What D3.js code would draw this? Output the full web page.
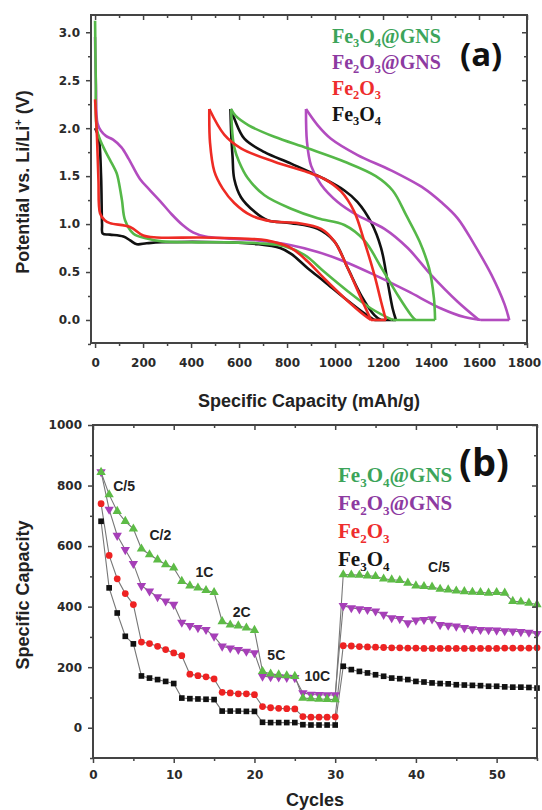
<!DOCTYPE html>
<html>
<head>
<meta charset="utf-8">
<script src="https://cdn.jsdelivr.net/npm/d3@7"></script>
<style>
  body { margin: 0; background: #fff; }
  svg { display: block; font-family: "Liberation Sans", Arial, sans-serif; }
</style>
</head>
<body>
<svg id="chart" width="542" height="810"></svg>
<script>
// ---------- panel (a): voltage profiles, points are [capacity mAh/g, potential V]
// charge curves start at the end of the flat 0 V step and climb back to the 2.2 V turn
var fe3o4Discharge1 = [[0,2.0],[15,1.9],[25,1.5],[29,1.0],[32,0.9],[62,0.89],[118,0.87],[146,0.83],[174,0.79],[215,0.80],[278,0.81],[539,0.81],[678,0.79],[771,0.75],[817,0.69],[886,0.54],[956,0.40],[1039,0.23],[1122,0.07],[1164,0]];
var fe3o4Charge = [[1254,0],[1240,0.12],[1219,0.40],[1192,0.75],[1150,1.02],[1094,1.23],[1039,1.35],[956,1.47],[817,1.63],[706,1.75],[622,1.89],[580,2.10],[564,2.2]];
var fe3o4Discharge2 = [[564,2.2],[568,1.9],[573,1.70],[580,1.47],[608,1.28],[664,1.13],[719,1.04],[817,1.01],[928,0.95],[997,0.82],[1053,0.54],[1108,0.26],[1164,0.05],[1190,0]];

var fe2o3Discharge1 = [[0,2.3],[8,1.9],[14,1.46],[21,1.11],[40,1.04],[62,1.01],[146,0.97],[201,0.88],[257,0.86],[437,0.86],[610,0.85],[715,0.83],[817,0.75],[886,0.61],[956,0.43],[1039,0.23],[1122,0.05],[1150,0]];
var fe2o3Charge = [[1212,0],[1192,0.19],[1164,0.47],[1122,0.82],[1080,1.13],[1025,1.34],[956,1.47],[886,1.54],[747,1.65],[608,1.79],[539,1.93],[476,2.2]];
var fe2o3Discharge2 = [[476,2.2],[479,1.85],[497,1.55],[532,1.37],[580,1.22],[650,1.09],[733,1.03],[845,1.01],[942,0.95],[997,0.82],[1053,0.54],[1108,0.23],[1150,0]];

var gnsFe3o4Discharge1 = [[0,3.12],[3,2.5],[8,1.98],[35,1.80],[62,1.67],[90,1.53],[98,1.45],[112,1.25],[125,1.04],[160,0.90],[216,0.85],[278,0.82],[400,0.81],[539,0.81],[678,0.80],[789,0.77],[872,0.68],[956,0.50],[1053,0.30],[1150,0.12],[1240,0]];
var gnsFe3o4Charge = [[1417,0],[1412,0.23],[1392,0.54],[1352,0.82],[1297,1.09],[1240,1.35],[1170,1.50],[1040,1.65],[886,1.79],[747,1.91],[640,2.03],[585,2.13],[567,2.2]];
var gnsFe3o4Discharge2 = [[567,2.2],[572,1.95],[580,1.80],[600,1.65],[636,1.48],[706,1.30],[817,1.16],[928,1.06],[1039,0.99],[1122,0.83],[1192,0.55],[1261,0.26],[1317,0.05],[1335,0]];

var gnsFe2o3Discharge1 = [[0,2.95],[4,2.4],[10,2.05],[25,1.97],[45,1.92],[75,1.88],[110,1.80],[140,1.68],[187,1.47],[230,1.35],[271,1.24],[320,1.10],[365,0.99],[410,0.91],[460,0.87],[550,0.85],[678,0.83],[817,0.78],[928,0.71],[1039,0.61],[1164,0.47],[1303,0.30],[1442,0.12],[1539,0.03],[1608,0]];
var gnsFe2o3Charge = [[1726,0],[1707,0.16],[1652,0.47],[1582,0.78],[1511,1.06],[1442,1.23],[1372,1.37],[1233,1.56],[1094,1.72],[983,1.89],[928,2.03],[879,2.2]];
var gnsFe2o3Discharge2 = [[879,2.2],[883,1.86],[900,1.61],[942,1.41],[1011,1.23],[1094,1.09],[1206,0.95],[1303,0.75],[1400,0.47],[1511,0.19],[1600,0]];

// ---------- panel (b): rate capability
var cycles = [1,2,3,4,5,6,7,8,9,10,11,12,13,14,15,16,17,18,19,20,21,22,23,24,25,26,27,28,29,30,31,32,33,34,35,36,37,38,39,40,41,42,43,44,45,46,47,48,49,50,51,52,53,54,55];
var gnsFe3o4Cap = [844,770,715,682,657, 591,572,555,539,528, 484,469,462,454,447, 351,340,337,330,322, 186,178,175,172,170, 98,96,95,94,93,
  506,505,504,502,500,492,489,487,478,469,467,465,458,456,452,450,448,447,445,447,445,418,416,412,407];
var gnsFe2o3Cap = [845,721,635,588,542, 469,451,432,418,407, 348,337,330,324,302, 269,263,258,252,247, 170,168,167,166,165, 115,110,109,108,108,
  403,396,392,390,385,374,363,360,346,355,357,359,340,338,335,330,326,324,323,322,320,319,317,315,311];
var fe2o3Cap = [740,569,492,443,407, 283,278,269,258,247,238, 177,172,168,161, 117,115,112,112,109, 70,66,64,63,62, 37,35,35,35,36,
  271,270,268,267,266,265,264,264,263,263,262,262,262,262,262,262,262,262,262,262,263,263,263,263,264];
var fe3o4Cap = [682,462,379,302,277, 171,164,159,153,146, 98,96,95,94,93, 55,55,55,54,54, 18,17,17,17,17, 10,9,9,9,9,
  203,192,186,181,175,170,164,162,159,153,151,148,146,145,142,141,140,139,137,137,135,134,134,133,131];

var legendLabels = ["Fe3O4@GNS", "Fe2O3@GNS", "Fe2O3", "Fe3O4"];
var rateLabels = ["C/5", "C/2", "1C", "2C", "5C", "10C", "C/5"];
var rateLabelCycle = [2.5, 7, 12.7, 17.3, 21.6, 26.2, 41.5];
var rateLabelCap = [783, 620, 498, 367, 225, 155, 513];

var capTicks = [0,200,400,600,800,1000,1200,1400,1600,1800];
var capMinor = [100,300,500,700,900,1100,1300,1500,1700];
var voltTicks = [0,0.5,1.0,1.5,2.0,2.5,3.0];
var voltMinor = [-0.25,0.25,0.75,1.25,1.75,2.25,2.75];
var cycleTicks = [0,10,20,30,40,50];
var cycleMinor = [5,15,25,35,45,55];
var capBTicks = [0,200,400,600,800,1000];
var capBMinor = [-100,100,300,500,700,900];

var lineColors = ["#55b848", "#b24cbf", "#ee2b24", "#111111"];
var textColors = ["#3ca45a", "#8d3aa1", "#ee2d2d", "#151515"];

var svg = d3.select("#chart");

// writes a chemical formula, digits as subscripts
function formula(sel, label, size) {
  var parts = label.match(/[0-9]+|[^0-9]+/g);
  var down = false;
  parts.forEach(function (p) {
    var t = sel.append("tspan").text(p);
    if (/^[0-9]+$/.test(p)) {
      t.attr("font-size", size * 0.62).attr("dy", size * 0.22);
      down = true;
    } else if (down) {
      t.attr("dy", -size * 0.22);
      down = false;
    }
  });
}

function axes(x, y, xMajor, xMinor, yMajor, yMinor, xFmt, yFmt, xPad, yPad) {
  var xr = x.range(), yr = y.range();
  var g = svg.append("g");
  g.append("g").attr("transform", "translate(0," + yr[0] + ")")
    .call(d3.axisBottom(x).tickValues(xMinor).tickSize(3).tickFormat(""));
  g.append("g").attr("class", "xlab").attr("transform", "translate(0," + yr[0] + ")")
    .call(d3.axisBottom(x).tickValues(xMajor).tickSize(5).tickPadding(xPad).tickFormat(xFmt));
  g.append("g").attr("transform", "translate(0," + yr[1] + ")")
    .call(d3.axisTop(x).tickValues(xMinor).tickSize(-3).tickFormat(""));
  g.append("g").attr("transform", "translate(0," + yr[1] + ")")
    .call(d3.axisTop(x).tickValues(xMajor).tickSize(-5).tickFormat(""));
  g.append("g").attr("transform", "translate(" + xr[0] + ",0)")
    .call(d3.axisLeft(y).tickValues(yMinor).tickSize(3).tickFormat(""));
  g.append("g").attr("transform", "translate(" + xr[0] + ",0)")
    .call(d3.axisLeft(y).tickValues(yMajor).tickSize(5).tickPadding(yPad).tickFormat(yFmt));
  g.append("g").attr("transform", "translate(" + xr[1] + ",0)")
    .call(d3.axisRight(y).tickValues(yMinor).tickSize(-3).tickFormat(""));
  g.append("g").attr("transform", "translate(" + xr[1] + ",0)")
    .call(d3.axisRight(y).tickValues(yMajor).tickSize(-5).tickFormat(""));
  g.selectAll(".domain").remove();
  g.selectAll(".tick line").attr("stroke", "#444").attr("stroke-width", 1.5);
  g.selectAll(".tick text")
    .attr("font-family", "'DejaVu Sans', sans-serif")
    .attr("font-weight", "bold").attr("font-size", 12).attr("fill", "#2a2a2a");
  g.append("rect")
    .attr("x", xr[0]).attr("y", yr[1])
    .attr("width", xr[1] - xr[0]).attr("height", yr[0] - yr[1])
    .attr("fill", "none").attr("stroke", "#444").attr("stroke-width", 2);
  return g;
}

// ================= panel (a) =================
var ax = d3.scaleLinear().domain([-17, 1800]).range([91, 527]);
var ay = d3.scaleLinear().domain([-0.24, 3.18]).range([343, 15]);

var profiles = [
  { color: lineColors[3], segs: [fe3o4Discharge1, fe3o4Charge, fe3o4Discharge2] },
  { color: lineColors[1], segs: [gnsFe2o3Discharge1, gnsFe2o3Charge, gnsFe2o3Discharge2] },
  { color: lineColors[0], segs: [gnsFe3o4Discharge1, gnsFe3o4Charge, gnsFe3o4Discharge2] },
  { color: lineColors[2], segs: [fe2o3Discharge1, fe2o3Charge, fe2o3Discharge2] }
];

var profileLine = d3.line()
  .x(function (d) { return ax(d[0]); })
  .y(function (d) { return ay(d[1]); })
  .curve(d3.curveCatmullRom.alpha(0.5));
var flatLine = d3.line()
  .x(function (d) { return ax(d[0]); })
  .y(function (d) { return ay(d[1]); });

var pa = svg.append("g");
profiles.forEach(function (p) {
  var d1 = p.segs[0], ch = p.segs[1];
  // 0 V step between end of first discharge and start of charge
  pa.append("path").attr("d", flatLine([d1[d1.length - 1], ch[0]]))
    .attr("fill", "none").attr("stroke", p.color).attr("stroke-width", 2.6);
  p.segs.forEach(function (s) {
    pa.append("path").attr("d", profileLine(s))
      .attr("fill", "none").attr("stroke", p.color)
      .attr("stroke-width", 2.6).attr("stroke-linejoin", "round");
  });
});

var axA = axes(ax, ay, capTicks, capMinor, voltTicks, voltMinor,
  d3.format("d"), d3.format(".1f"), 10, 6);
// last label sits on the page edge, nudge it inside
axA.select(".xlab").selectAll(".tick text").filter(function (d) { return d === 1800; })
  .attr("dx", -3);

// legend (a)
legendLabels.forEach(function (l, i) {
  var t = svg.append("text")
    .attr("x", 332).attr("y", 43 + i * 26)
    .attr("font-family", "'Liberation Serif', 'Times New Roman', serif")
    .attr("font-weight", "bold").attr("font-size", 20)
    .attr("fill", textColors[i]);
  formula(t, l, 20);
});
svg.append("text").attr("x", 460).attr("y", 66)
  .attr("font-family", "'Open Sans', sans-serif").attr("font-weight", "bold")
  .attr("font-size", 33).attr("fill", "#111").text("(a)");

svg.append("text").attr("x", 309).attr("y", 407).attr("text-anchor", "middle")
  .attr("font-weight", "bold").attr("font-size", 18).attr("fill", "#222")
  .text("Specific Capacity (mAh/g)");

var yta = svg.append("text")
  .attr("transform", "translate(29,182) rotate(-90)").attr("text-anchor", "middle")
  .attr("font-weight", "bold").attr("font-size", 18).attr("fill", "#222");
yta.append("tspan").text("Potential vs. Li/Li");
yta.append("tspan").attr("font-size", 11).attr("dy", -7).text("+");
yta.append("tspan").attr("dy", 7).text(" (V)");

// ================= panel (b) =================
var bx = d3.scaleLinear().domain([0, 55]).range([93, 537]);
var by = d3.scaleLinear().domain([-100, 1000]).range([758, 425]);

var rateSeries = [
  { values: fe3o4Cap, color: "#111111", shape: "square" },
  { values: fe2o3Cap, color: "#ee2222", shape: "circle" },
  { values: gnsFe2o3Cap, color: "#a63fb8", shape: "down" },
  { values: gnsFe3o4Cap, color: "#5dbb46", shape: "up" }
];

var rateLine = d3.line()
  .x(function (d, i) { return bx(cycles[i]); })
  .y(function (d) { return by(d); });

var pb = svg.append("g");
rateSeries.forEach(function (s) {
  pb.append("path").attr("d", rateLine(s.values))
    .attr("fill", "none").attr("stroke", "#777").attr("stroke-width", 1.1);
});

var symbolOf = {
  square: d3.symbol().type(d3.symbolSquare).size(32),
  circle: d3.symbol().type(d3.symbolCircle).size(36),
  down: d3.symbol().type(d3.symbolTriangle).size(38),
  up: d3.symbol().type(d3.symbolTriangle).size(38)
};

rateSeries.forEach(function (s) {
  pb.append("g").selectAll("path").data(s.values).join("path")
    .attr("d", symbolOf[s.shape]())
    .attr("transform", function (d, i) {
      return "translate(" + bx(cycles[i]) + "," + by(d) + ")" + (s.shape === "down" ? " rotate(180)" : "");
    })
    .attr("fill", s.color);
});

axes(bx, by, cycleTicks, cycleMinor, capBTicks, capBMinor,
  d3.format("d"), d3.format("d"), 7, 6);

// rate labels
rateLabels.forEach(function (l, i) {
  svg.append("text")
    .attr("x", bx(rateLabelCycle[i])).attr("y", by(rateLabelCap[i]))
    .attr("font-weight", "bold").attr("font-size", 14).attr("fill", "#222")
    .text(l);
});

// legend (b)
legendLabels.forEach(function (l, i) {
  var t = svg.append("text")
    .attr("x", 338).attr("y", 482 + i * 28)
    .attr("font-family", "'Liberation Serif', 'Times New Roman', serif")
    .attr("font-weight", "bold").attr("font-size", 21)
    .attr("fill", textColors[i]);
  formula(t, l, 21);
});
svg.append("text").attr("x", 459).attr("y", 476)
  .attr("font-family", "'Open Sans', sans-serif").attr("font-weight", "bold")
  .attr("font-size", 38).attr("fill", "#111").text("(b)");

svg.append("text").attr("x", 315).attr("y", 806).attr("text-anchor", "middle")
  .attr("font-weight", "bold").attr("font-size", 18).attr("fill", "#222")
  .text("Cycles");

svg.append("text")
  .attr("transform", "translate(29,595) rotate(-90)").attr("text-anchor", "middle")
  .attr("font-weight", "bold").attr("font-size", 18).attr("fill", "#222")
  .text("Specific Capacity");
</script>
</body>
</html>
